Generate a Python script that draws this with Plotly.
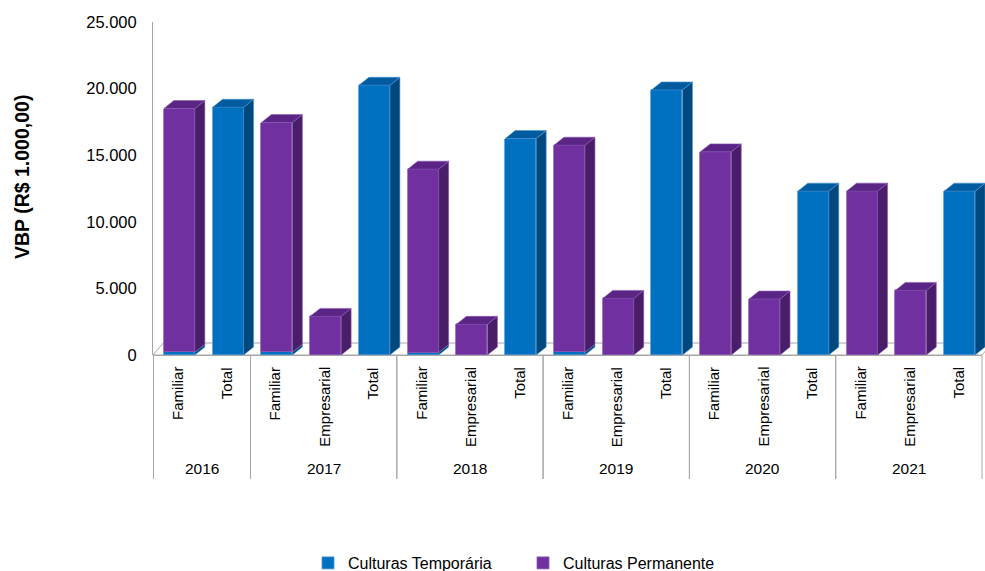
import plotly.graph_objects as go

# ---- data -------------------------------------------------------------
years = ["2016", "2017", "2018", "2019", "2020", "2021"]
groups = {
    "2016": ["Familiar", "Total"],
    "2017": ["Familiar", "Empresarial", "Total"],
    "2018": ["Familiar", "Empresarial", "Total"],
    "2019": ["Familiar", "Empresarial", "Total"],
    "2020": ["Familiar", "Empresarial", "Total"],
    "2021": ["Familiar", "Empresarial", "Total"],
}

# VBP (R$ 1.000,00) per category, in the order the categories are listed
temporaria = [200, 18600,
              200, None, 20250,
              180, None, 16250,
              200, None, 19900,
              None, None, 12300,
              None, None, 12300]
permanente = [18300, None,
              17250, 2900, None,
              13770, 2300, None,
              15550, 4250, None,
              15250, 4200, None,
              12300, 4850, None]

y_ticks = [0, 5000, 10000, 15000, 20000, 25000]

# ---- styling ----------------------------------------------------------
FONT = "Liberation Sans, Arial"
BLUE = dict(front="#0070C0", side="#00497E", top="#005C9E", edge="#4F94D4")
PURPLE = dict(front="#7030A0", side="#4A1D68", top="#5A2585", edge="#8C5CB5")

W = 0.636          # bar width (category units)
SHIFT = 0.04       # small horizontal offset of the bars
DX, DY = 0.205, 600     # bar depth projection (x units, y units)
FDX, FDY = 0.21, 900    # floor depth projection

L_PX, R_PX, T_PX, B_PX = 153, 985, 22, 355
n = len(temporaria)
x0, x1 = -0.5, -0.5 + (R_PX - L_PX) / ((982 - L_PX) / n)


def xp(xd):
    return (xd - x0) / (x1 - x0)


def yp(ypix):
    return (B_PX - ypix) / (B_PX - T_PX)


cat_x, cat_label, year_span = [], [], []
i = 0
for yr in years:
    start = i
    for lab in groups[yr]:
        cat_x.append(i)
        cat_label.append(lab)
        i += 1
    year_span.append((yr, start - 0.5, i - 0.5))

fig = go.Figure()

fig.add_trace(go.Bar(
    x=cat_x, y=temporaria, name="Culturas Temporária",
    width=W, offset=-W / 2 + SHIFT,
    marker=dict(color=BLUE["front"], line=dict(color=BLUE["edge"], width=0.8)),
))
fig.add_trace(go.Bar(
    x=cat_x, y=permanente, name="Culturas Permanente",
    width=W, offset=-W / 2 + SHIFT,
    marker=dict(color=PURPLE["front"], line=dict(color=PURPLE["edge"], width=0.8)),
))

# 3-D side and top faces of each stacked segment
faces = {k: ([], []) for k in ["bs", "bt", "ps", "pt"]}
for k in range(n):
    c = cat_x[k] + SHIFT
    lo, hi = c - W / 2, c + W / 2
    base = 0
    segs = [("b", temporaria[k]), ("p", permanente[k])]
    for idx, (s, v) in enumerate(segs):
        if not v:
            continue
        top = base + v
        sx, sy = faces[s + "s"]
        sx += [hi, hi + DX, hi + DX, hi, hi, None]
        sy += [base, base + DY, top + DY, top, base, None]
        above = any(vv for _, vv in segs[idx + 1:])
        if not above:
            tx, ty = faces[s + "t"]
            tx += [lo, lo + DX, hi + DX, hi, lo, None]
            ty += [top, top + DY, top + DY, top, top, None]
        base = top

for key, col in [("bs", BLUE["side"]), ("bt", BLUE["top"]),
                 ("ps", PURPLE["side"]), ("pt", PURPLE["top"])]:
    pal = BLUE if key[0] == "b" else PURPLE
    fx, fy = faces[key]
    fig.add_trace(go.Scatter(
        x=fx, y=fy, mode="lines", fill="toself", fillcolor=col,
        line=dict(color=pal["edge"], width=0.6),
        showlegend=False, hoverinfo="skip",
    ))

shapes = []
# floor of the 3-D plot area
shapes.append(dict(
    type="path", xref="x", yref="y", layer="below",
    path=f"M {x0},0 L {n - 0.5},0 L {n - 0.5 + FDX},{FDY} L {x0 + FDX},{FDY} Z",
    fillcolor="white", line=dict(color="#A6A6A6", width=1),
))
# category axis line and year separators
shapes.append(dict(type="line", xref="paper", yref="paper",
                   x0=xp(x0), x1=xp(n - 0.5), y0=yp(355.5), y1=yp(355.5),
                   line=dict(color="#A6A6A6", width=1)))
for yr, a, b in year_span:
    for xx in (a, b):
        off = 0.0006 if xx == x0 else 0
        shapes.append(dict(type="line", xref="paper", yref="paper",
                           x0=xp(xx) + off, x1=xp(xx) + off,
                           y0=yp(355.5), y1=yp(479),
                           line=dict(color="#A6A6A6", width=1)))

annotations = []
for xx, lab in zip(cat_x, cat_label):
    annotations.append(dict(
        x=xx, xref="x", y=yp(365), yref="paper", text=lab,
        textangle=-90, xanchor="center", yanchor="top", showarrow=False,
        font=dict(family=FONT, size=15, color="#000000"),
    ))
for yr, a, b in year_span:
    annotations.append(dict(
        x=(a + b) / 2, xref="x", y=yp(468), yref="paper", text=yr,
        xanchor="center", yanchor="middle", showarrow=False,
        font=dict(family=FONT, size=15.5, color="#000000"),
    ))
annotations.append(dict(
    x=(22 - L_PX) / (R_PX - L_PX), xref="paper",
    y=yp(177), yref="paper", text="<b>VBP (R$ 1.000,00)</b>",
    textangle=-90, xanchor="center", yanchor="middle", showarrow=False,
    font=dict(family=FONT, size=19.5, color="#000000"),
))

fig.update_layout(
    width=985, height=571,
    margin=dict(l=L_PX, r=985 - R_PX, t=T_PX, b=571 - B_PX, autoexpand=False),
    paper_bgcolor="white", plot_bgcolor="white",
    barmode="stack", bargap=0, separators=",.",
    showlegend=True,
    legend=dict(orientation="h", traceorder="normal",
                x=(523 - L_PX) / (R_PX - L_PX), xanchor="center",
                y=yp(563), yanchor="middle", entrywidth=170,
                font=dict(family=FONT, size=16, color="#000000"),
                bgcolor="rgba(0,0,0,0)"),
    xaxis=dict(range=[x0, x1], showticklabels=False, showgrid=False,
               zeroline=False, showline=False, ticks=""),
    yaxis=dict(range=[0, 25000], tickvals=y_ticks, tickformat=",",
               showgrid=False, zeroline=False, showline=True,
               linecolor="#A6A6A6", linewidth=1, ticks="",
               ticklabelstandoff=12,
               tickfont=dict(family=FONT, size=16.5, color="#000000")),
    shapes=shapes, annotations=annotations,
)

fig.write_html("out.html")
